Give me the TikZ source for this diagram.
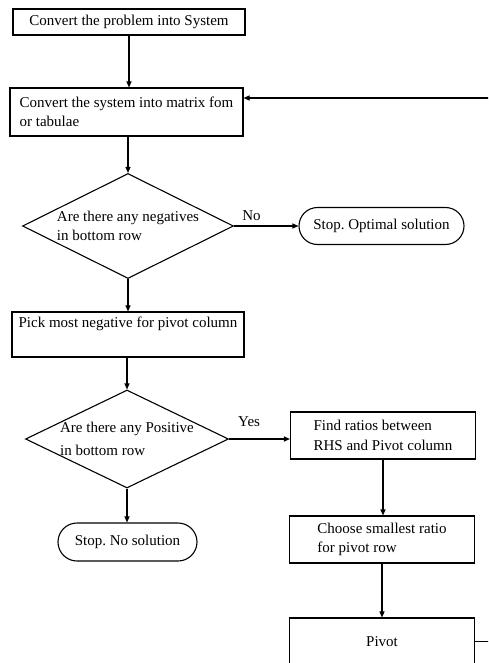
\documentclass[tikz,border=0pt]{standalone}
\usepackage{fontspec}
\setmainfont{Liberation Serif}
\usetikzlibrary{positioning,arrows.meta,shapes.geometric,shapes.misc}
\frenchspacing

\begin{document}
\begin{tikzpicture}[x=1pt, y=-1pt,
  every node/.style={font=\fontsize{15}{18.5}\selectfont},
  box/.style={draw, line width=1.1pt, rectangle, align=left, inner sep=2pt},
  dec/.style={draw, line width=1.1pt, diamond, aspect=2, align=left, inner sep=-12pt},
  term/.style={draw, line width=1.1pt, rounded rectangle, inner sep=2pt},
  arr/.style={line width=1.1pt, -{Triangle[length=6pt,width=5pt]}},
  lbl/.style={inner sep=2pt}]

  \clip (0,0) rectangle (488,663);

  % ===== main column (left) =====
  \node[box, minimum width=232pt, minimum height=26pt] (conv)   at (129,22)    {Convert the problem into System};
  \node[box, minimum width=233pt, minimum height=48pt] (matrix) at (126.5,112) {Convert the system into matrix fom\\or tabulae};
  \node[dec, minimum width=211pt, minimum height=105pt] (neg)   at (128,226)   {Are there any negatives\\in bottom row};
  \node[box, minimum width=232pt, minimum height=45pt] (pick)   at (128,334.5) {Pick most negative for pivot column\\\strut};
  \node[dec, minimum width=203pt, minimum height=98pt] (pos)    at (127,439)   {Are there any Positive\\[5pt]in bottom row};
  \node[term, minimum width=143pt, minimum height=38pt] (nosol) at (127.5,542)  {Stop. No solution};

  % ===== right column =====
  \node[term, minimum width=169pt, minimum height=37pt] (opt)   at (381.5,226)   {Stop. Optimal solution};
  \node[box, minimum width=185pt, minimum height=47pt] (ratio)  at (383,435.5)   {Find ratios between\\[2pt]RHS and Pivot column};
  \node[box, minimum width=185pt, minimum height=47pt] (small)  at (382,539.5)   {Choose smallest ratio\\for pivot row};
  \node[box, minimum width=185pt, minimum height=47pt] (pivot)  at (382,641.5)   {Pivot};

  % ===== flow =====
  \draw[arr] (conv.south) -- (conv.south |- matrix.north);
  \draw[arr] (neg.north |- matrix.south) -- (neg.north);
  \draw[arr] (neg.south) -- (neg.south |- pick.north);
  \draw[arr] (pos.north |- pick.south) -- (pos.north);
  \draw[arr] (pos.south) -- (pos.south |- nosol.north);
  \draw[arr] (neg.east) -- node[lbl, above=3pt, pos=0.27]{No} (opt.west);
  \draw[arr] (pos.east) -- node[lbl, above=10pt, pos=0.33]{Yes} (pos.east -| ratio.west);
  \draw[arr] (ratio.south) -- (ratio.south |- small.north);
  \draw[arr] (small.south) -- (pivot.north);

  % ===== loop back =====
  \draw[arr] (pivot.east) -- ++(40,0) |- ([yshift=14pt]matrix.east);

\end{tikzpicture}
\end{document}
